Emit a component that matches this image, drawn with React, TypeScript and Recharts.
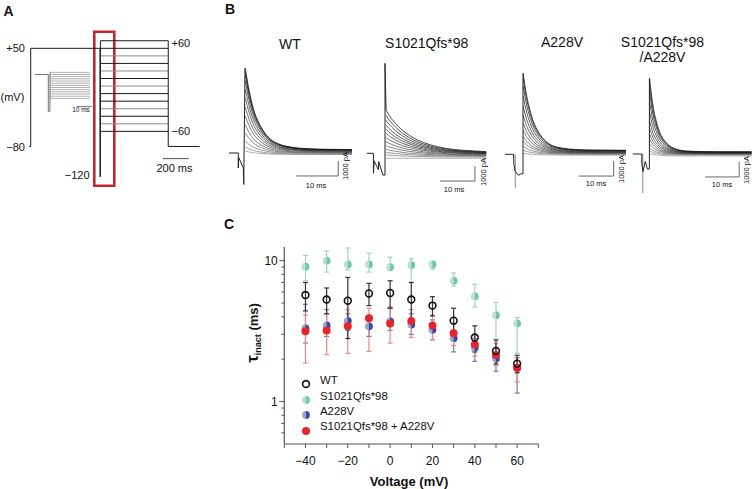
import React from 'react';
import { LineChart, Line, XAxis, YAxis, ReferenceArea, ScatterChart, Scatter, ErrorBar } from 'recharts';

const FONT = '"Liberation Sans", Arial, Helvetica, sans-serif';
const AX = '#555';

// ---------------- Panel A: voltage protocol ----------------
const testLevels = [60, 50, 40, 30, 20, 10, 0, -10, -20, -30, -40, -50, -60];
const testColors = ['#1a1a1a', '#1a1a1a', '#8c8c8c', '#1a1a1a', '#8c8c8c', '#1a1a1a', '#8c8c8c', '#1a1a1a', '#1a1a1a', '#8c8c8c', '#1a1a1a', '#8c8c8c', '#1a1a1a'];
const protoPre = [
  { t: -12, v: -80 }, { t: 0, v: -80 }, { t: 0, v: 50 }, { t: 533, v: 50 },
  { t: 533, v: -120 }, { t: 536, v: -120 }, { t: 536, v: 60 },
];
const protoTestStart = 536;
const protoTestEnd = 1058;
const protoPost = [{ t: 1058, v: 60 }, { t: 1058, v: -80 }, { t: 1300, v: -80 }];
const protoScale = [{ t: 1015, v: -96 }, { t: 1215, v: -96 }];
const insetPre = [{ t: -9, v: 50 }, { t: 0, v: 50 }, { t: 0, v: -120 }, { t: 1.1, v: -120 }, { t: 1.1, v: 60 }];
const insetTestStart = 1.1;
const insetTestEnd = 27.8;
const insetScale = [{ t: 19, v: -98 }, { t: 29, v: -98 }];

// ---------------- Panel B: current traces (pA vs ms) ----------------
const traceShades = ['#111', '#151515', '#1e1e1e', '#282828', '#303030', '#3a3a3a', '#444', '#4e4e4e', '#585858', '#666', '#747474', '#848484', '#949494'];

const trWtTimes = [0.05, 1, 2, 3, 4, 6, 8, 11, 15, 20, 25.6];
const trWtProfile = [1, 0.72, 0.5, 0.36, 0.26, 0.13, 0.07, 0.03, 0.01, 0.003, 0];
const trWtPeaks = [5670, 5470, 5200, 4800, 4270, 3670, 3070, 2470, 1870, 1330, 800, 400, 130];
const trWtEnds = [230, 210, 200, 180, 150, 130, 100, 70, 30, 0, -30, -70, -100];
const trWtArtifact = [{ t: -3.8, v: 0 }, { t: -1.6, v: 0 }, { t: -1.6, v: -1000 }, { t: -1.5, v: -300 }, { t: -0.4, v: -1000 }, { t: -0.3, v: -2100 }, { t: 0, v: 5670 }];
const trWtBar = [{ t: 12.2, v: -1530 }, { t: 22.2, v: -1530 }, { t: 22.2, v: -530 }];

const trSfTimes = [0.3, 1, 2, 3, 4, 6, 8, 11, 15, 20, 25, 29];
const trSfProfile = [1, 0.9, 0.78, 0.68, 0.59, 0.45, 0.34, 0.22, 0.12, 0.05, 0.02, 0];
const trSfPeaks = [2870, 2530, 2200, 1870, 1600, 1330, 1040, 770, 510, 270, 70, -110, -330];
const trSfEnds = [110, 80, 50, 30, 0, -30, -50, -90, -120, -160, -200, -250, -330];
const trSfArtifact = [{ t: -5.2, v: 0 }, { t: -3.3, v: 0 }, { t: -3.3, v: -1330 }, { t: -3.1, v: -500 }, { t: -1.9, v: -1100 }, { t: -1.8, v: -550 }, { t: -0.6, v: -1450 }, { t: 0, v: -1450 }, { t: 0, v: 6000 }, { t: 0.3, v: 2870 }];
const trSfBar = [{ t: 15.7, v: -1850 }, { t: 25.7, v: -1850 }, { t: 25.7, v: -850 }];

const trAvTimes = [0.05, 1, 2, 3, 4, 6, 8, 11, 15, 20, 29.5];
const trAvProfile = [1, 0.72, 0.52, 0.37, 0.27, 0.14, 0.07, 0.03, 0.01, 0.003, 0];
const trAvPeaks = [5400, 5070, 4530, 3870, 3200, 2600, 2070, 1600, 1200, 870, 530, 270, 70];
const trAvEnds = [270, 250, 230, 200, 170, 150, 120, 100, 70, 50, 20, 0, -60];
const trAvArtifact = [{ t: -5.1, v: 0 }, { t: -2.7, v: 0 }, { t: -2.6, v: -700 }, { t: -2.2, v: -1150 }, { t: -1.3, v: -1400 }, { t: -0.6, v: -1300 }, { t: 0, v: -1300 }, { t: 0, v: 5400 }];
const trAvGray = [{ t: -2.2, v: 0 }, { t: -2.2, v: -2270 }];
const trAvBar = [{ t: 15.9, v: -1450 }, { t: 25.9, v: -1450 }, { t: 25.9, v: -450 }];

const trDmTimes = [0.05, 1, 2, 3, 4, 6, 8, 11, 15, 20, 30.1];
const trDmProfile = [1, 0.64, 0.42, 0.27, 0.18, 0.08, 0.035, 0.01, 0.003, 0, 0];
const trDmPeaks = [5070, 4670, 4130, 3470, 2800, 2200, 1730, 1330, 1000, 670, 400, 200, 30];
const trDmEnds = [150, 130, 120, 100, 80, 70, 50, 30, 10, 0, -30, -70, -130];
const trDmArtifact = [{ t: -4.9, v: 0 }, { t: -2.24, v: 0 }, { t: -2.24, v: -600 }, { t: -1.9, v: -1180 }, { t: -1.2, v: -500 }, { t: -0.6, v: -1000 }, { t: 0, v: -1000 }, { t: 0, v: 5050 }];
const trDmGray = [{ t: -1.94, v: 0 }, { t: -1.94, v: -2600 }];
const trDmBar = [{ t: 16.4, v: -1530 }, { t: 26.4, v: -1530 }, { t: 26.4, v: -530 }];

// ---------------- Panel C: tau inact vs voltage ----------------
const voltages = [-40, -30, -20, -10, 0, 10, 20, 30, 40, 50, 60];
const wtTau = [5.7, 5.3, 5.2, 5.85, 5.9, 5.3, 4.8, 3.75, 2.85, 2.29, 1.86];
const wtUpper = [7.0, 6.4, 7.6, 6.9, 7.2, 7.0, 5.55, 4.6, 3.45, 2.73, 2.13];
const wtLower = [4.4, 4.2, 2.8, 4.8, 4.6, 3.6, 4.05, 2.9, 2.25, 1.85, 1.6];
const sfTau = [9.06, 10.0, 9.4, 9.4, 9.0, 9.3, 9.4, 7.2, 5.57, 4.1, 3.59];
const sfUpper = [10.9, 11.7, 12.3, 11.3, 10.6, 10.3, 9.9, 8.17, 6.8, 5.05, 3.94];
const sfLower = [7.2, 8.3, 8.6, 8.3, 8.5, 7.0, 8.7, 6.6, 4.7, 2.8, 2.2];
const avTau = [3.3, 3.47, 3.73, 3.42, 3.71, 3.53, 3.24, 2.82, 2.42, 2.02, 1.73];
const avUpper = [4.9, 4.5, 4.2, 4.0, 4.6, 4.2, 3.8, 3.2, 2.8, 2.4, 2.05];
const avLower = [2.6, 2.9, 3.2, 2.9, 3.2, 3.0, 2.75, 2.25, 1.93, 1.64, 1.15];
const dmTau = [3.15, 3.2, 3.42, 3.9, 3.58, 3.73, 3.47, 3.05, 2.54, 2.14, 1.74];
const dmUpper = [4.1, 4.2, 4.5, 4.6, 4.7, 4.5, 4.1, 3.6, 3.0, 2.6, 2.05];
const dmLower = [1.88, 2.15, 2.2, 2.27, 2.6, 2.85, 2.75, 2.5, 2.1, 1.8, 1.38];

const xTicks = [-50, -40, -30, -20, -10, 0, 10, 20, 30, 40, 50, 60, 70];
const xLabeled = [-40, -20, 0, 20, 40, 60];
const yTicks = [0.6, 0.7, 0.8, 0.9, 1, 2, 3, 4, 5, 6, 7, 8, 9, 10];
const yLabeled = [1, 10];
const legendNames = ['WT', 'S1021Qfs*98', 'A228V', 'S1021Qfs*98 + A228V'];

const C_GREEN_L = '#b9e3cf';
const C_GREEN_D = '#74c6a3';
const C_BLUE_L = '#9aa3d6';
const C_BLUE_D = '#3b4a9c';
const C_RED = '#e3262c';

// ---------------- helpers ----------------
function Txt({ x, y, children, anchor = 'middle', size = 12, bold = false, rotate = 0, color = '#111' }: any) {
  const tx = anchor === 'middle' ? '-50%' : anchor === 'end' ? '-100%' : '0%';
  return (
    <div
      style={{
        position: 'absolute', left: x, top: y, whiteSpace: 'nowrap', lineHeight: 1,
        fontSize: size, fontWeight: bold ? 700 : 400, color, fontFamily: FONT,
        transform: `translate(${tx},-50%)` + (rotate ? ` rotate(${rotate}deg)` : ''),
      }}
    >
      {children}
    </div>
  );
}

const M0 = { top: 0, right: 0, bottom: 0, left: 0 };

function ProtocolChart() {
  const tests = testLevels.map((v) => [{ t: protoTestStart, v }, { t: protoTestEnd, v }]);
  const insetTests = testLevels.map((v) => [{ t: insetTestStart, v }, { t: insetTestEnd, v }]);
  return (
    <>
      <div style={{ position: 'absolute', left: 0, top: 20 }}>
        <LineChart width={210} height={180} margin={M0}>
          <XAxis dataKey="t" type="number" domain={[-236.2, 1379.2]} hide allowDataOverflow />
          <YAxis type="number" domain={[-150.9, 87.5]} hide allowDataOverflow />
          {tests.map((d, i) => (
            <Line key={i} data={d} dataKey="v" type="linear" stroke={testColors[i]} strokeWidth={1} dot={false} isAnimationActive={false} />
          ))}
          <Line data={protoPre} dataKey="v" type="linear" stroke="#1a1a1a" strokeWidth={1} dot={false} isAnimationActive={false} />
          <Line data={protoPost} dataKey="v" type="linear" stroke="#1a1a1a" strokeWidth={1} dot={false} isAnimationActive={false} />
          <Line data={protoScale} dataKey="v" type="linear" stroke="#666" strokeWidth={1.2} dot={false} isAnimationActive={false} />
          <ReferenceArea x1={489} x2={643} y1={-132} y2={72} fill="none" fillOpacity={0} stroke="#c1272d" strokeWidth={2.6} ifOverflow="visible" />
        </LineChart>
      </div>
      <div style={{ position: 'absolute', left: 30, top: 65 }}>
        <LineChart width={70} height={55} margin={M0}>
          <XAxis dataKey="t" type="number" domain={[-12.2, 34.47]} hide allowDataOverflow />
          <YAxis type="number" domain={[-159.7, 93.8]} hide allowDataOverflow />
          {insetTests.map((d, i) => (
            <Line key={i} data={d} dataKey="v" type="linear" stroke="#9a9a9a" strokeWidth={0.8} dot={false} isAnimationActive={false} />
          ))}
          <Line data={insetPre} dataKey="v" type="linear" stroke="#666" strokeWidth={0.9} dot={false} isAnimationActive={false} />
          <Line data={insetScale} dataKey="v" type="linear" stroke="#555" strokeWidth={0.8} dot={false} isAnimationActive={false} />
        </LineChart>
      </div>
    </>
  );
}

function TracePanel({ cfg }: any) {
  const pxPerPA = 15 / 1000;
  const top = 55;
  const height = 150;
  const left = cfg.spikeX + cfg.tStart * cfg.pxPerMs;
  const width = (cfg.tEnd - cfg.tStart) * cfg.pxPerMs;
  const vMax = (cfg.baseY - top) / pxPerPA;
  const vMin = vMax - height / pxPerPA;
  const rows = cfg.times.map((t: number, k: number) => {
    const r: any = { t };
    cfg.peaks.forEach((p: number, i: number) => {
      r['i' + i] = cfg.ends[i] + (p - cfg.ends[i]) * cfg.profile[k];
    });
    return r;
  });
  const order = cfg.peaks.map((_: any, i: number) => i).reverse();
  return (
    <div style={{ position: 'absolute', left, top }}>
      <LineChart width={width} height={height} data={rows} margin={M0}>
        <XAxis dataKey="t" type="number" domain={[cfg.tStart, cfg.tEnd]} hide allowDataOverflow />
        <YAxis type="number" domain={[vMin, vMax]} hide allowDataOverflow />
        {cfg.gray && (
          <Line data={cfg.gray} dataKey="v" type="linear" stroke="#8a8a8a" strokeWidth={1} dot={false} isAnimationActive={false} />
        )}
        {order.map((i: number) => (
          <Line key={i} dataKey={'i' + i} type="monotone" stroke={traceShades[i]} strokeWidth={0.75} dot={false} isAnimationActive={false} />
        ))}
        <Line data={cfg.artifact} dataKey="v" type="linear" stroke="#222" strokeWidth={1} dot={false} isAnimationActive={false} />
        <Line data={cfg.bar} dataKey="v" type="linear" stroke="#666" strokeWidth={1} dot={false} isAnimationActive={false} />
      </LineChart>
    </div>
  );
}

const wtCfg = { spikeX: 244.5, pxPerMs: 4.2, baseY: 153, tStart: -5, tEnd: 25.6, times: trWtTimes, profile: trWtProfile, peaks: trWtPeaks, ends: trWtEnds, artifact: trWtArtifact, bar: trWtBar };
const sfCfg = { spikeX: 385, pxPerMs: 3.5, baseY: 153.3, tStart: -6, tEnd: 29, times: trSfTimes, profile: trSfProfile, peaks: trSfPeaks, ends: trSfEnds, artifact: trSfArtifact, bar: trSfBar };
const avCfg = { spikeX: 522.7, pxPerMs: 3.5, baseY: 154.3, tStart: -6, tEnd: 29.5, times: trAvTimes, profile: trAvProfile, peaks: trAvPeaks, ends: trAvEnds, artifact: trAvArtifact, gray: trAvGray, bar: trAvBar };
const dmCfg = { spikeX: 649.3, pxPerMs: 3.4, baseY: 154, tStart: -6, tEnd: 30.1, times: trDmTimes, profile: trDmProfile, peaks: trDmPeaks, ends: trDmEnds, artifact: trDmArtifact, gray: trDmGray, bar: trDmBar };

const fmt = (v: number) => (v < 0 ? '\u2212' + Math.abs(v) : String(v));

const XTick = (p: any) => {
  const v = p.payload.value;
  if (!xLabeled.includes(v)) return <g />;
  return (
    <text x={p.x} y={p.y} dy="0.71em" textAnchor="middle" fontSize={12} fill="#111" fontFamily={FONT}>
      {fmt(v)}
    </text>
  );
};

const YTick = (p: any) => {
  const v = p.payload.value;
  const major = yLabeled.includes(v);
  const axisX = p.x + 7;
  return (
    <g>
      <line x1={axisX - (major ? 5 : 3)} x2={axisX} y1={p.y} y2={p.y} stroke={AX} strokeWidth={1} />
      {major && (
        <text x={p.x + 0.5} y={p.y} dy="0.355em" textAnchor="end" fontSize={12} fill="#111" fontFamily={FONT}>
          {v}
        </text>
      )}
    </g>
  );
};

const halfShape = (light: string, dark: string, r: number) => (p: any) => {
  const { cx, cy } = p;
  if (cx == null || cy == null) return <g />;
  return (
    <g>
      <path d={`M${cx},${cy - r} A${r},${r} 0 0,0 ${cx},${cy + r} Z`} fill={light} />
      <path d={`M${cx},${cy - r} A${r},${r} 0 0,1 ${cx},${cy + r} Z`} fill={dark} />
    </g>
  );
};
const wtShape = (p: any) => (p.cx == null ? <g /> : <circle cx={p.cx} cy={p.cy} r={3.4} fill="none" stroke="#111" strokeWidth={1.6} />);
const redShape = (p: any) => (p.cx == null ? <g /> : <circle cx={p.cx} cy={p.cy} r={4} fill={C_RED} />);
const greenShape = halfShape(C_GREEN_L, C_GREEN_D, 3.9);
const blueShape = halfShape(C_BLUE_L, C_BLUE_D, 3.9);

function mk(tau: number[], up: number[], lo: number[]) {
  return voltages.map((v, i) => ({ v, tau: tau[i], err: [tau[i] - lo[i], up[i] - tau[i]] }));
}

function TauChart() {
  const wt = mk(wtTau, wtUpper, wtLower);
  const sf = mk(sfTau, sfUpper, sfLower);
  const av = mk(avTau, avUpper, avLower);
  const dm = mk(dmTau, dmUpper, dmLower);
  return (
    <div style={{ position: 'absolute', left: 200, top: 235 }}>
      <ScatterChart width={350} height={254} margin={{ top: 12, right: 11.7, bottom: 15, left: 44.3 }}>
        <XAxis dataKey="v" type="number" domain={[-50, 70]} ticks={xTicks} interval={0} tick={XTick} tickSize={4} tickMargin={8}
          axisLine={{ stroke: AX, strokeWidth: 1.2 }} tickLine={{ stroke: AX, strokeWidth: 1 }} height={30} allowDataOverflow />
        <YAxis dataKey="tau" type="number" scale="log" domain={[0.5, 12.5]} ticks={yTicks} interval={0} tick={YTick} tickLine={false}
          tickSize={5} tickMargin={2} width={40} axisLine={{ stroke: AX, strokeWidth: 1.2 }} allowDataOverflow />
        <Scatter data={sf} dataKey="tau" shape={greenShape} isAnimationActive={false}>
          <ErrorBar dataKey="err" direction="y" width={2.5} stroke="#9fd6bd" strokeWidth={1.2} />
        </Scatter>
        <Scatter data={av} dataKey="tau" shape={blueShape} isAnimationActive={false}>
          <ErrorBar dataKey="err" direction="y" width={2.5} stroke="#6f7cc0" strokeWidth={1.2} />
        </Scatter>
        <Scatter data={dm} dataKey="tau" shape={redShape} isAnimationActive={false}>
          <ErrorBar dataKey="err" direction="y" width={2.5} stroke="#ee8585" strokeWidth={1.2} />
        </Scatter>
        <Scatter data={wt} dataKey="tau" shape={wtShape} isAnimationActive={false}>
          <ErrorBar dataKey="err" direction="y" width={2.5} stroke="#333" strokeWidth={1.2} />
        </Scatter>
      </ScatterChart>
    </div>
  );
}

function LegendMarker({ kind, x, y }: any) {
  const r = 3.9;
  return (
    <svg style={{ position: 'absolute', left: x - 6, top: y - 6 }} width={12} height={12}>
      {kind === 0 && <circle cx={6} cy={6} r={3.4} fill="none" stroke="#111" strokeWidth={1.6} />}
      {kind === 1 && (
        <g>
          <path d={`M6,${6 - r} A${r},${r} 0 0,0 6,${6 + r} Z`} fill={C_GREEN_L} />
          <path d={`M6,${6 - r} A${r},${r} 0 0,1 6,${6 + r} Z`} fill={C_GREEN_D} />
        </g>
      )}
      {kind === 2 && (
        <g>
          <path d={`M6,${6 - r} A${r},${r} 0 0,0 6,${6 + r} Z`} fill={C_BLUE_L} />
          <path d={`M6,${6 - r} A${r},${r} 0 0,1 6,${6 + r} Z`} fill={C_BLUE_D} />
        </g>
      )}
      {kind === 3 && <circle cx={6} cy={6} r={4} fill={C_RED} />}
    </svg>
  );
}

export default function App() {
  const legendMarkerY = [383.5, 399.5, 415, 431];
  const legendTextY = [381, 396.5, 411.5, 426.5];
  return (
    <div style={{ position: 'absolute', left: 0, top: 0, width: 754, height: 489, background: '#fff', overflow: 'hidden', fontFamily: FONT }}>
      {/* Panel A */}
      <Txt x={8.5} y={11} bold size={14}>A</Txt>
      <ProtocolChart />
      <Txt x={25} y={48.3} anchor="end" size={11}>+50</Txt>
      <Txt x={0.5} y={97} anchor="start" size={11}>(mV)</Txt>
      <Txt x={25} y={146.5} anchor="end" size={11}>{'\u221280'}</Txt>
      <Txt x={171.5} y={42.5} anchor="start" size={11}>+60</Txt>
      <Txt x={171.5} y={130.5} anchor="start" size={11}>{'\u221260'}</Txt>
      <Txt x={89.5} y={174.5} anchor="end" size={11}>{'\u2212120'}</Txt>
      <Txt x={174.5} y={168} size={11}>200 ms</Txt>
      <Txt x={81} y={109.5} size={6.5}>10 ms</Txt>

      {/* Panel B */}
      <Txt x={230} y={9} bold size={14}>B</Txt>
      <Txt x={290} y={43.5} size={14}>WT</Txt>
      <Txt x={426.7} y={43} size={14}>S1021Qfs*98</Txt>
      <Txt x={562} y={42} size={14}>A228V</Txt>
      <Txt x={662.5} y={42} size={14}>S1021Qfs*98</Txt>
      <Txt x={662.5} y={57} size={14}>/A228V</Txt>
      <TracePanel cfg={wtCfg} />
      <TracePanel cfg={sfCfg} />
      <TracePanel cfg={avCfg} />
      <TracePanel cfg={dmCfg} />
      <Txt x={316} y={186} size={7.5}>10 ms</Txt>
      <Txt x={346} y={166} size={7.5} rotate={-90}>1000 pA</Txt>
      <Txt x={454} y={190} size={7.5}>10 ms</Txt>
      <Txt x={484} y={172} size={7.5} rotate={-90}>1000 pA</Txt>
      <Txt x={596} y={184} size={7.5}>10 ms</Txt>
      <Txt x={622} y={169} size={7.5} rotate={-90}>1000 pA</Txt>
      <Txt x={722} y={185} size={7.5}>10 ms</Txt>
      <Txt x={747} y={170} size={7.5} rotate={-90}>1000 pA</Txt>

      {/* Panel C */}
      <Txt x={229} y={224} bold size={14}>C</Txt>
      <TauChart />
      <Txt x={251.5} y={333} bold size={13} rotate={-90}>
        <span style={{ fontSize: 17 }}>{'\u03c4'}</span>
        <span style={{ fontSize: 9, position: 'relative', top: 3 }}>inact</span>
        <span> (ms)</span>
      </Txt>
      <Txt x={409} y={481} bold size={13}>Voltage (mV)</Txt>
      {legendNames.map((n, i) => (
        <React.Fragment key={n}>
          <LegendMarker kind={i} x={306} y={legendMarkerY[i]} />
          <Txt x={320} y={legendTextY[i]} anchor="start" size={11.4}>{n}</Txt>
        </React.Fragment>
      ))}
    </div>
  );
}
